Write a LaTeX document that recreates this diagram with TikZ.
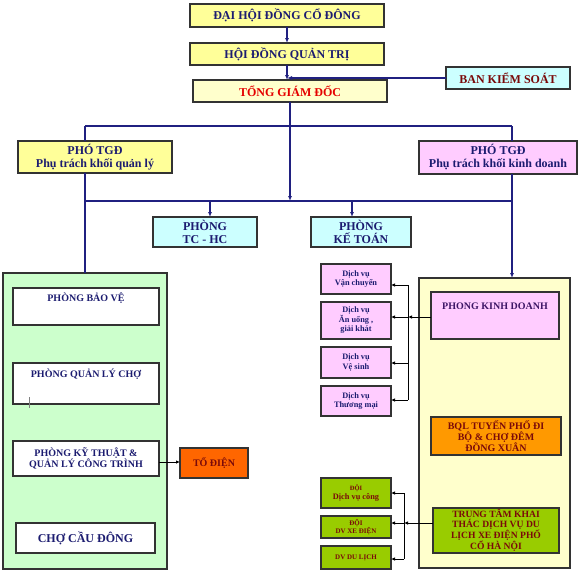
\documentclass[tikz,border=0pt]{standalone}
\usepackage{fontspec}
\setmainfont{Liberation Serif}
\usetikzlibrary{arrows.meta}
\definecolor{ylw}{HTML}{FFFF99}
\definecolor{lylw}{HTML}{FFFFCC}
\definecolor{cyn}{HTML}{CCFFFF}
\definecolor{pnk}{HTML}{FFCCFF}
\definecolor{lgrn}{HTML}{CCFFCC}
\definecolor{grn}{HTML}{99CC00}
\definecolor{org}{HTML}{FF9900}
\definecolor{redorg}{HTML}{FF6600}
\definecolor{navy}{HTML}{202080}
\definecolor{txtnavy}{HTML}{1C1C70}
\definecolor{dred}{HTML}{7A0A0A}
\definecolor{edge}{HTML}{333333}
\tikzset{
  bx/.style={draw=edge, line width=1.1pt, inner sep=0pt, outer sep=0pt, align=center, text=txtnavy},
  sz/.style 2 args={minimum width=#1pt, minimum height=#2pt},
  big/.style={font=\bfseries\fontsize{12}{13}\selectfont},
  mid/.style={font=\bfseries\fontsize{10}{11}\selectfont},
  sml/.style={font=\bfseries\fontsize{8.3}{9.5}\selectfont},
  conn/.style={draw=navy, line width=1.1pt},
  sconn/.style={draw=black, line width=0.8pt},
  arr/.style={-{Latex[length=5pt,width=4pt]}},
  sarr/.style={-{Latex[length=4pt,width=3.5pt]}}
}
\begin{document}
\begin{tikzpicture}[x=1pt,y=-1pt]
\useasboundingbox (0,0) rectangle (580,579);
\fill[white] (0,0) rectangle (580,579);

% top chain
\node[bx, big, fill=ylw, sz={194}{23}] (dh) at (287,15.5) {ĐẠI HỘI ĐỒNG CỔ ĐÔNG};
\node[bx, big, fill=ylw, sz={194}{22}] (hdqt) at (287,54) {HỘI ĐỒNG QUẢN TRỊ};
\node[bx, big, fill=cyn, text=dred, sz={124}{22}] (bks) at (508,78) {BAN KIỂM SOÁT};
\node[bx, big, fill=lylw, text=red!90!black, sz={194}{22}] (tgd) at (290,91) {TỔNG GIÁM ĐỐC};

% deputies
\node[bx, big, fill=ylw, sz={154}{32}] (ptl) at (95,157) {PHÓ TGĐ\\Phụ trách khối quản lý};
\node[bx, big, fill=pnk, sz={158}{33}] (ptr) at (498,157.5) {PHÓ TGĐ\\Phụ trách khối kinh doanh};

\node[bx, big, fill=cyn, sz={104}{30}] (tchc) at (205,232) {PHÒNG\\TC - HC};
\node[bx, big, fill=cyn, sz={100}{30}] (kt) at (361,232) {PHÒNG\\KẾ TOÁN};

% left block
\node[bx, fill=lgrn, sz={164}{296}] (lblock) at (85,421) {};
\node[bx, fill=white, sz={146}{37}] (bv) at (86,306.5) {};
\node[mid, text=txtnavy, anchor=north, inner sep=0pt] (bvt) at ([yshift=-5pt]bv.north) {PHÒNG BẢO VỆ};
\node[bx, fill=white, sz={146}{41}] (qlc) at (86,383.5) {};
\node[mid, text=txtnavy, anchor=north, inner sep=0pt] (qlct) at ([yshift=-6pt]qlc.north) {PHÒNG QUẢN LÝ CHỢ};
\node[bx, mid, fill=white, sz={146}{35}] (kth) at (86,458.5) {PHÒNG KỸ THUẬT \&\\QUẢN LÝ CÔNG TRÌNH};
\node[bx, big, fill=white, sz={139}{30}] (ccd) at (85.5,538) {CHỢ CẦU ĐÔNG};
\node[bx, mid, fill=redorg, text=dred, sz={68}{30}] (td) at (214,463) {TỔ ĐIỆN};
\draw[gray, line width=0.5pt] (29,397) -- (29,408);

% right block
\node[bx, fill=lylw, sz={151}{290}] (rblock) at (494.5,423) {};
\node[bx, fill=pnk, sz={128}{47}] (pkd) at (495,315.5) {};
\node[mid, text=txtnavy!80!purple, anchor=north, inner sep=0pt] (pkdt) at ([yshift=-11pt]pkd.north) {PHONG KINH DOANH};
\node[bx, mid, fill=org, text=dred, sz={130}{38}] (bql) at (496,436) {BQL TUYẾN PHỐ ĐI\\BỘ \& CHỢ ĐÊM\\ĐỒNG XUÂN};
\node[bx, fill=grn, text=dred, font=\bfseries\fontsize{9.6}{9.6}\selectfont, sz={126}{45}] (tt) at (496,530.5) {TRUNG TÂM KHAI\\THÁC DỊCH VỤ DU\\LỊCH XE ĐIỆN PHỐ\\CỔ HÀ NỘI};

\node[bx, sml, fill=pnk, sz={70}{30}] (dv1) at (356,279) {Dịch vụ\\Vận chuyển};
\node[bx, sml, fill=pnk, sz={70}{37}] (dv2) at (356,320.5) {Dịch vụ\\Ăn uống ,\\giải khát};
\node[bx, sml, fill=pnk, sz={70}{31}] (dv3) at (356,362.5) {Dịch vụ\\Vệ sinh};
\node[bx, sml, fill=pnk, sz={70}{30}] (dv4) at (356,401) {Dịch vụ\\Thương mại};

\node[bx, sml, fill=grn, text=dred, sz={70}{30}] (d1) at (356,493) {{\fontsize{6.5}{7}\selectfont ĐỘI}\\Dịch vụ công};
\node[bx, fill=grn, text=dred, font=\bfseries\fontsize{7}{8}\selectfont, sz={70}{22}] (d2) at (356,527) {ĐỘI\\DV XE ĐIỆN};
\node[bx, fill=grn, text=dred, font=\bfseries\fontsize{7}{8}\selectfont, sz={70}{23}] (d3) at (356,557.5) {DV DU LỊCH};

% top connectors
\coordinate (bksend) at (hdqt.south |- bks.west);
\draw[conn, arr] (dh.south) -- (hdqt.north);
\draw[conn, arr] (hdqt.south) -- (hdqt.south |- tgd.north);
\draw[conn, arr] (bks.west) -- (bksend);
\coordinate (h1l) at (85,126);
\coordinate (h1r) at (512,126);
\coordinate (h2l) at (85,201);
\coordinate (h2r) at (512,201);
\coordinate (h2c) at (tgd.south |- h2l);
\draw[conn] (h1l) -- (h1r);
\draw[conn] (h1l) -- (ptl.north -| h1l);
\draw[conn] (h1r) -- (ptr.north -| h1r);
\draw[conn, arr] (tgd.south) -- (h2c);
\draw[conn] (h2l) -- (h2r);
\draw[conn] (ptl.south -| h2l) -- (lblock.north -| h2l);
\draw[conn, arr] (ptr.south -| h2r) -- (rblock.north -| h2r);
\coordinate (a1) at (210,201);
\coordinate (a2) at (352,201);
\draw[conn, arr] (a1) -- (tchc.north -| a1);
\draw[conn, arr] (a2) -- (kt.north -| a2);

% left side
\draw[sconn, sarr] (kth.east |- 0,462) -- (td.west |- 0,462);

% services
\coordinate (v1t) at (408,285);
\coordinate (v1b) at (408,400);
\coordinate (v1m) at (408,317);
\draw[sconn] (v1t) -- (v1b);
\draw[sconn, sarr] (pkd.west |- v1m) -- (v1m);
\draw[sconn, sarr] (v1t) -- (dv1.east |- v1t);
\draw[sconn, sarr] (v1m) -- (dv2.east |- v1m);
\draw[sconn, sarr] (408,363) -- (dv3.east |- 0,363);
\draw[sconn, sarr] (v1b) -- (dv4.east |- v1b);

\coordinate (v2t) at (404,493);
\coordinate (v2b) at (404,559);
\coordinate (v2m) at (404,523);
\draw[sconn] (v2t) -- (v2b);
\draw[sconn, sarr] (tt.west |- v2m) -- (v2m);
\draw[sconn, sarr] (v2t) -- (d1.east |- v2t);
\draw[sconn, sarr] (v2m) -- (d2.east |- v2m);
\draw[sconn, sarr] (v2b) -- (d3.east |- v2b);
\end{tikzpicture}
\end{document}
